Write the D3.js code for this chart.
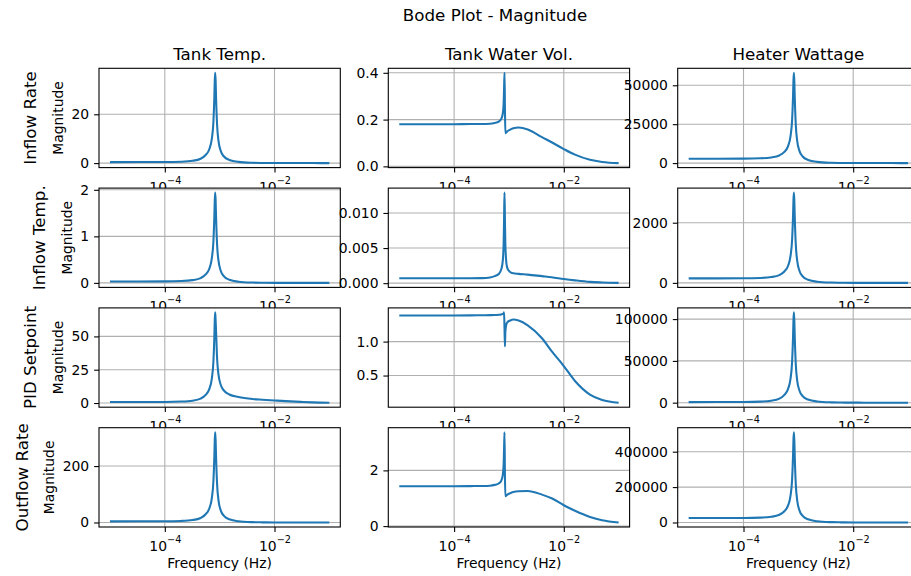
<!DOCTYPE html>
<html>
<head>
<meta charset="utf-8">
<script src="https://cdn.jsdelivr.net/npm/d3@7"></script>
<style>
    body { margin: 0; background: #fff; }
    svg { display: block; font-family: "DejaVu Sans", sans-serif; }
</style>
</head>
<body>
<svg id="bode" width="911" height="576"></svg>
<script>
// Rows are the inputs, columns the outputs
const inputs = ["Inflow Rate", "Inflow Temp.", "PID Setpoint", "Outflow Rate"];
const outputs = ["Tank Temp.", "Tank Water Vol.", "Heater Wattage"];

// Frequencies (Hz) shared by every curve
const freqs = [1e-5, 1e-4, 2e-4, 3.2e-4, 4.5e-4, 5.5e-4, 6.5e-4, 7.2e-4, 7.7e-4, 8e-4, 8.15e-4, 8.3e-4, 8.45e-4, 8.6e-4,
    9e-4, 9.5e-4, 1.05e-3, 1.2e-3, 1.5e-3, 2.2e-3, 4e-3, 6e-3, 1e-2, 1.6e-2, 3e-2, 5e-2, 1e-1];

// Magnitudes, one array per input/output pair
const inflowRateTemp = [0.4, 0.44, 0.58, 0.95, 1.8, 3.2, 5.8, 10, 17, 27, 34, 37, 33.6, 27, 15.3, 9.3, 4.9, 2.7, 1.3, 0.5, 0.14, 0.06, 0.02, 0.01, 0.005, 0.003, 0.002];
const inflowRateVol = [0.18, 0.18, 0.181, 0.181, 0.182, 0.1855, 0.191, 0.202, 0.224, 0.268, 0.334, 0.40, 0.25, 0.142, 0.146, 0.151, 0.157, 0.163, 0.166, 0.158, 0.125, 0.103, 0.074, 0.05, 0.028, 0.019, 0.014];
const inflowRateWatt = [2800, 2860, 3070, 3630, 4900, 7050, 10900, 17260, 27860, 42930, 53470, 58000, 52660, 42340, 24010, 14560, 7660, 4230, 2030, 780, 220, 90, 30, 15, 8, 5, 3];

const inflowTempTemp = [0.03, 0.032, 0.039, 0.059, 0.103, 0.177, 0.31, 0.53, 0.897, 1.42, 1.78, 1.94, 1.76, 1.42, 0.80, 0.487, 0.256, 0.142, 0.068, 0.026, 0.0074, 0.003, 0.001, 0.0005, 0.0003, 0.0002, 0.0001];
const inflowTempVol = [0.0007, 0.0007, 0.0007, 0.00072, 0.00082, 0.001, 0.0013, 0.0019, 0.0031, 0.0056, 0.0092, 0.0129, 0.009, 0.0055, 0.0028, 0.002, 0.0016, 0.0014, 0.00132, 0.00122, 0.001, 0.00085, 0.0006, 0.0004, 0.00018, 0.0001, 0.00004];
const inflowTempWatt = [150, 153, 164, 193, 258, 369, 569, 897, 1444, 2222, 2766, 3000, 2724, 2190, 1242, 753, 396, 219, 105, 40, 11, 5, 1.5, 0.8, 0.4, 0.3, 0.2];

const setpointTemp = [0.75, 0.82, 1.08, 1.76, 3.3, 5.9, 10.6, 18.4, 31.3, 49.6, 62.5, 68, 61.7, 54, 32.8, 21.6, 13.5, 9.3, 6.4, 4.5, 3.0, 2.5, 1.9, 1.4, 0.85, 0.5, 0.25];
const setpointVol = [1.385, 1.385, 1.386, 1.388, 1.39, 1.392, 1.396, 1.4, 1.407, 1.418, 1.43, 1.2, 0.93, 1.15, 1.26, 1.29, 1.31, 1.325, 1.31, 1.24, 1.05, 0.86, 0.64, 0.42, 0.22, 0.14, 0.10];
const setpointWatt = [700, 818, 1226, 2310, 4780, 8960, 16470, 28810, 49410, 78710, 99200, 108000, 98060, 78840, 44710, 27110, 14260, 7880, 3780, 1460, 410, 170, 55, 25, 10, 5, 2];

const outflowRateTemp = [4, 4.35, 5.55, 8.7, 16, 28.3, 50.5, 86.8, 147.5, 233.7, 294, 320, 290.6, 233.6, 132.5, 80.3, 42.2, 23.4, 11.2, 4.3, 1.2, 0.5, 0.16, 0.08, 0.04, 0.02, 0.01];
const outflowRateVol = [1.43, 1.432, 1.436, 1.44, 1.45, 1.48, 1.53, 1.62, 1.82, 2.21, 2.79, 3.37, 1.8, 1.07, 1.1, 1.14, 1.18, 1.22, 1.25, 1.26, 1.13, 1.0, 0.75, 0.55, 0.33, 0.21, 0.13];
const outflowRateWatt = [25000, 25530, 27380, 32280, 43430, 62350, 96300, 152100, 245200, 377600, 470200, 510000, 463100, 372300, 211100, 128000, 67300, 37230, 17850, 6900, 1940, 820, 260, 120, 60, 30, 15];

const magnitudes = [
    [inflowRateTemp, inflowRateVol, inflowRateWatt],
    [inflowTempTemp, inflowTempVol, inflowTempWatt],
    [setpointTemp, setpointVol, setpointWatt],
    [outflowRateTemp, outflowRateVol, outflowRateWatt]
];

// Tick values and their labels
const xTicks = [1e-4, 1e-2];
const xTickExps = ["\u22124", "\u22122"];

const yTicks = [
    [[0, 20], [0, 0.2, 0.4], [0, 25000, 50000]],
    [[0, 1, 2], [0, 0.005, 0.01], [0, 2000]],
    [[0, 25, 50], [0.5, 1.0], [0, 50000, 100000]],
    [[0, 200], [0, 2], [0, 200000, 400000]]
];
const yTickLabels = [
    [["0", "20"], ["0.0", "0.2", "0.4"], ["0", "25000", "50000"]],
    [["0", "1", "2"], ["0.000", "0.005", "0.010"], ["0", "2000"]],
    [["0", "25", "50"], ["0.5", "1.0"], ["0", "50000", "100000"]],
    [["0", "200"], ["0", "2"], ["0", "200000", "400000"]]
];

// Layout of the grid of axes
const colLeft = [99, 388.3, 677.7];
const rowTop = [68.3, 188.1, 307.9, 427.7];
const axWidth = 241.3;
const axHeight = 99.3;

const lineColor = "#1f77b4";
const gridColor = "#b0b0b0";
const tickFont = 13.9;
const titleFont = 16.7;

const svg = d3.select("#bode");

// matplotlib style 5% margins around the data
const padLinear = ([lo, hi]) => {
    const m = (hi - lo) * 0.05;
    return [lo - m, hi + m];
};
const padLog = ([lo, hi]) => {
    const a = Math.log10(lo), b = Math.log10(hi), m = (b - a) * 0.05;
    return [Math.pow(10, a - m), Math.pow(10, b + m)];
};

svg.append("text")
    .attr("x", 495)
    .attr("y", 21)
    .attr("text-anchor", "middle")
    .attr("font-size", titleFont)
    .text("Bode Plot - Magnitude");

const drawPanel = (row, col) => {
    const mags = magnitudes[row][col];
    const points = freqs.map((f, i) => ({ f: f, m: mags[i] }));

    const xScale = d3.scaleLog().domain(padLog(d3.extent(freqs))).range([0, axWidth]);
    const yScale = d3.scaleLinear().domain(padLinear(d3.extent(mags))).range([axHeight, 0]);

    const g = svg.append("g")
        .attr("transform", `translate(${colLeft[col]},${rowTop[row]})`);

    // Axes background (hides labels of the row above, like matplotlib)
    g.append("rect")
        .attr("width", axWidth)
        .attr("height", axHeight)
        .attr("fill", "white");

    // Grid
    g.append("g")
        .selectAll("line")
        .data(xTicks)
        .join("line")
        .attr("x1", d => xScale(d))
        .attr("x2", d => xScale(d))
        .attr("y1", 0)
        .attr("y2", axHeight)
        .attr("stroke", gridColor)
        .attr("stroke-width", 1.1);

    g.append("g")
        .selectAll("line")
        .data(yTicks[row][col])
        .join("line")
        .attr("x1", 0)
        .attr("x2", axWidth)
        .attr("y1", d => yScale(d))
        .attr("y2", d => yScale(d))
        .attr("stroke", gridColor)
        .attr("stroke-width", 1.1);

    // Curve
    const clipId = `clip-${row}-${col}`;
    g.append("clipPath")
        .attr("id", clipId)
        .append("rect")
        .attr("width", axWidth)
        .attr("height", axHeight);

    const line = d3.line()
        .x(d => xScale(d.f))
        .y(d => yScale(d.m))
        .curve(d3.curveMonotoneX);

    g.append("path")
        .datum(points)
        .attr("clip-path", `url(#${clipId})`)
        .attr("d", line)
        .attr("fill", "none")
        .attr("stroke", lineColor)
        .attr("stroke-width", 2.08)
        .attr("stroke-linejoin", "round");

    // Spines
    g.append("rect")
        .attr("width", axWidth)
        .attr("height", axHeight)
        .attr("fill", "none")
        .attr("stroke", "black")
        .attr("stroke-width", 1.1);

    // Y axis
    const yAxisG = g.append("g")
        .call(d3.axisLeft(yScale)
            .tickValues(yTicks[row][col])
            .tickFormat((d, i) => yTickLabels[row][col][i])
            .tickSize(4.9)
            .tickPadding(4.9));
    yAxisG.select(".domain").remove();
    yAxisG.attr("font-size", tickFont).attr("font-family", null);
    yAxisG.selectAll("line").attr("stroke-width", 1.1);

    // X axis with 10^n labels
    const xAxisG = g.append("g")
        .attr("transform", `translate(0,${axHeight})`)
        .call(d3.axisBottom(xScale)
            .tickValues(xTicks)
            .tickFormat("")
            .tickSize(4.9)
            .tickPadding(4.9));
    xAxisG.select(".domain").remove();
    xAxisG.attr("font-size", tickFont).attr("font-family", null);
    xAxisG.selectAll("line").attr("stroke-width", 1.1);
    const xLabels = xAxisG.selectAll(".tick text")
        .attr("y", 24)
        .attr("dy", null);
    xLabels.append("tspan").text("10");
    xLabels.append("tspan")
        .attr("dy", -8)
        .attr("font-size", 9.7)
        .text((d, i) => xTickExps[i]);

    // Column titles on the top row
    if (row === 0) {
        g.append("text")
            .attr("x", axWidth / 2)
            .attr("y", -8.3)
            .attr("text-anchor", "middle")
            .attr("font-size", titleFont)
            .text(outputs[col]);
    }

    // Frequency label on the bottom row
    if (row === inputs.length - 1) {
        g.append("text")
            .attr("x", axWidth / 2)
            .attr("y", axHeight + 41)
            .attr("text-anchor", "middle")
            .attr("font-size", tickFont)
            .text("Frequency (Hz)");
    }

    // Y label and row name follow the width of the tick labels
    if (col === 0) {
        const tickLeft = d3.min(yAxisG.selectAll("text").nodes(), n => n.getBBox().x);
        const ylabelX = tickLeft - 8.5;
        const rowLabelX = tickLeft - 35.1;

        g.append("text")
            .attr("transform", `translate(${ylabelX},${axHeight / 2}) rotate(-90)`)
            .attr("text-anchor", "middle")
            .attr("font-size", tickFont)
            .text("Magnitude");

        g.append("text")
            .attr("transform", `translate(${rowLabelX},${axHeight / 2}) rotate(-90)`)
            .attr("text-anchor", "middle")
            .attr("font-size", titleFont)
            .text(inputs[row]);
    }
};

inputs.forEach((input, row) => {
    outputs.forEach((output, col) => drawPanel(row, col));
});
</script>
</body>
</html>
